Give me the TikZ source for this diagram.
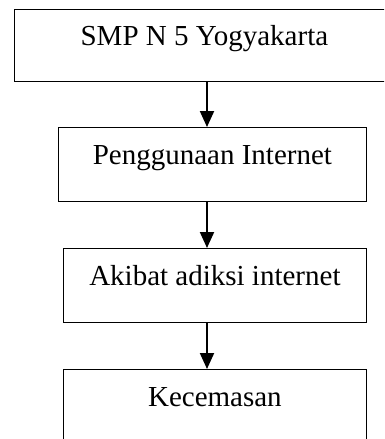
\documentclass[tikz,border=0pt]{standalone}
\usepackage{fontspec}
\setmainfont{Liberation Serif}
\usepackage{tikz}
\usetikzlibrary{arrows.meta}
\tikzset
{
    flowbox/.style  = {rectangle, draw=black, line width=0.8pt, anchor=north west, inner xsep=0pt, inner ysep=0pt, text height=37pt, text depth=37pt, font=\fontsize{29}{34}\selectfont},
    flowarrow/.style = {-{Triangle[length=16pt, width=14pt]}, line width=2pt}
}

\begin{document}
\begin{tikzpicture}[x=1pt, y=1pt]
    \useasboundingbox (0,0) rectangle (384,-439);
    \clip (0,0) rectangle (384,-439);
    \node [flowbox, minimum width=380pt, text height=36pt, text depth=36pt] (smp) at (14,-9) {SMP N 5 Yogyakarta};
    \node [flowbox, minimum width=308pt] (penggunaan) at (58,-127) {Penggunaan Internet};
    \node [flowbox, minimum width=303pt] (akibat) at (63,-248) {Akibat adiksi internet};
    \node [flowbox, minimum width=303pt] (kecemasan) at (63,-369) {Kecemasan};
    \coordinate (ax) at (207,0);
    \draw [flowarrow] (smp.south -| ax) -- (penggunaan.north -| ax);
    \draw [flowarrow] (penggunaan.south -| ax) -- (akibat.north -| ax);
    \draw [flowarrow] (akibat.south -| ax) -- (kecemasan.north -| ax);
\end{tikzpicture}
\end{document}
